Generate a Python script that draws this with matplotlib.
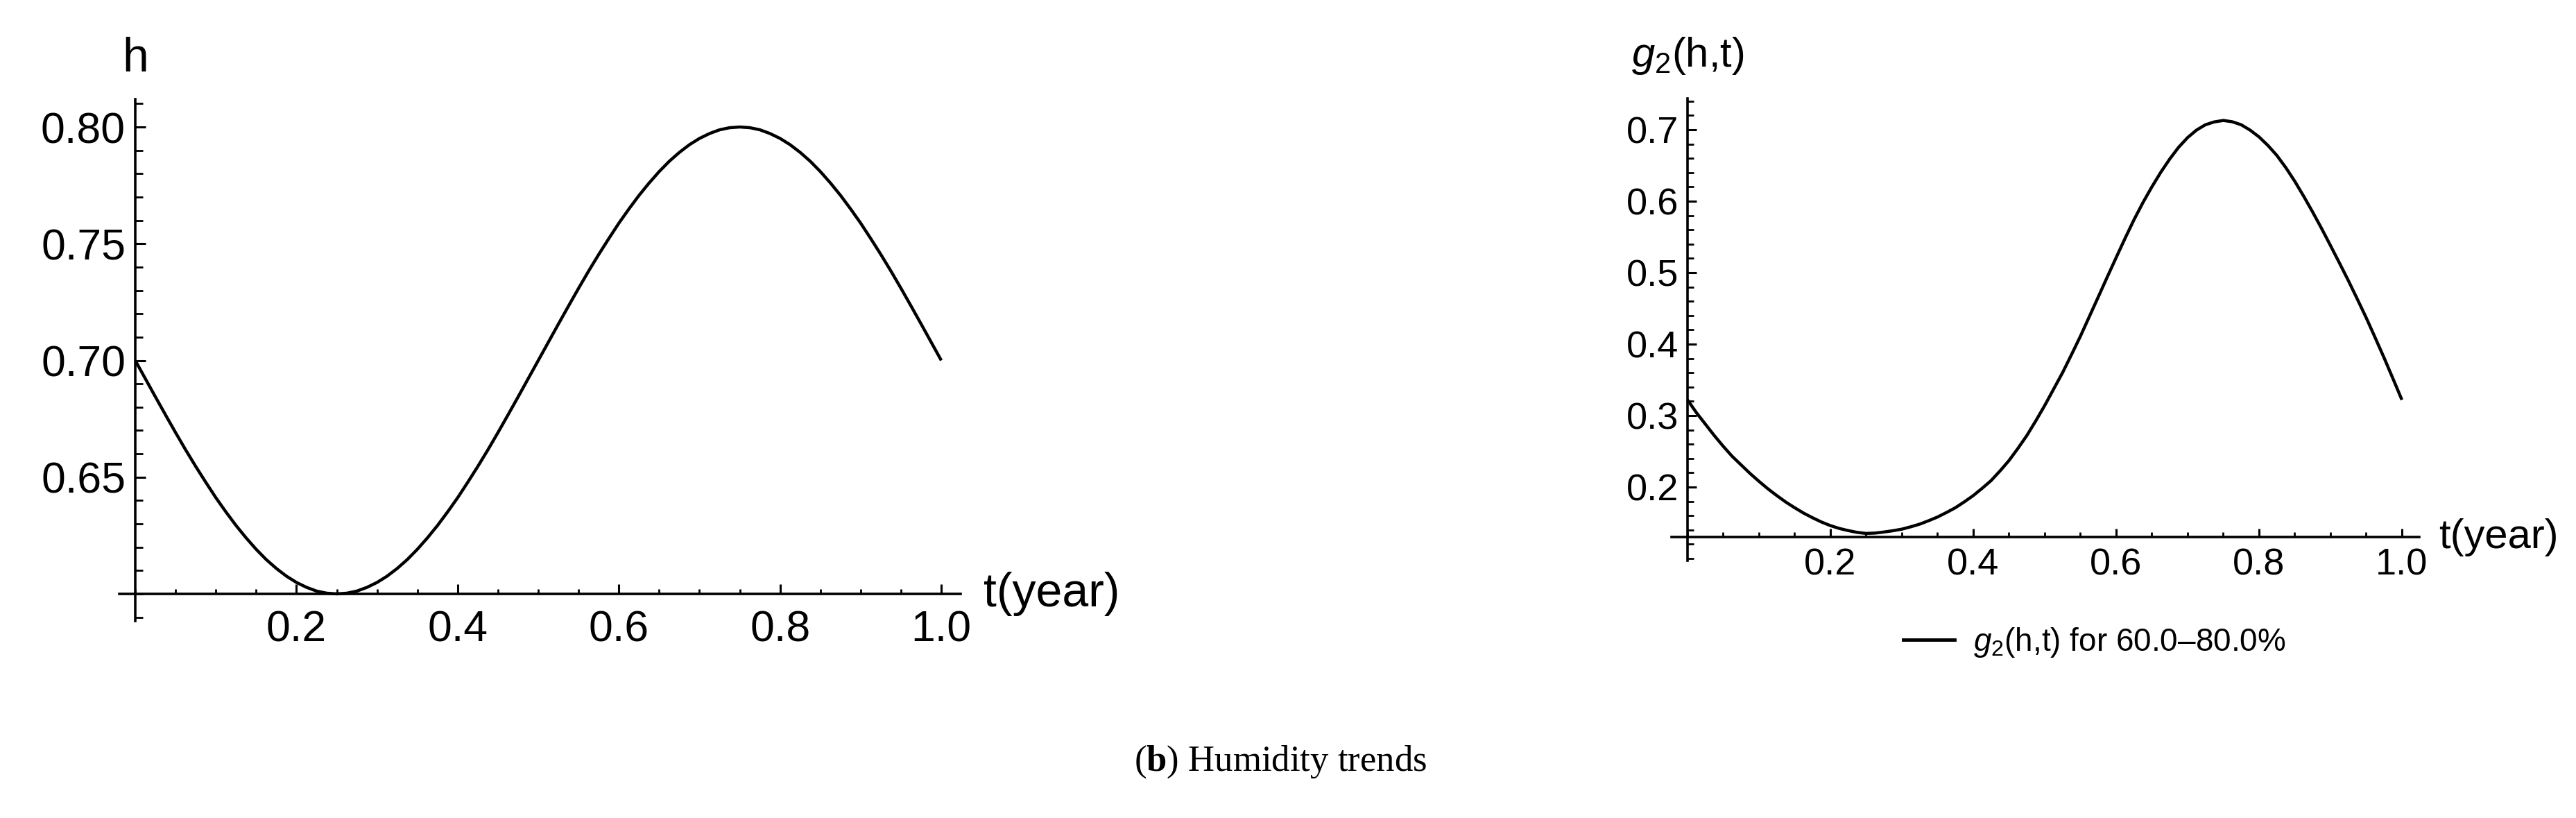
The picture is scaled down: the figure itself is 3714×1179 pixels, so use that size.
import matplotlib
matplotlib.use("Agg")
import matplotlib.pyplot as plt
from matplotlib.ticker import FixedLocator, MultipleLocator
from matplotlib.lines import Line2D

# time in years, shared by both panels
t_year = [0.0000, 0.0125, 0.0250, 0.0375, 0.0500, 0.0625, 0.0750, 0.0875, 0.1000, 0.1125,
          0.1250, 0.1375, 0.1500, 0.1625, 0.1750, 0.1875, 0.2000, 0.2125, 0.2250, 0.2375,
          0.2500, 0.2625, 0.2750, 0.2875, 0.3000, 0.3125, 0.3250, 0.3375, 0.3500, 0.3625,
          0.3750, 0.3875, 0.4000, 0.4125, 0.4250, 0.4375, 0.4500, 0.4625, 0.4750, 0.4875,
          0.5000, 0.5125, 0.5250, 0.5375, 0.5500, 0.5625, 0.5750, 0.5875, 0.6000, 0.6125,
          0.6250, 0.6375, 0.6500, 0.6625, 0.6750, 0.6875, 0.7000, 0.7125, 0.7250, 0.7375,
          0.7500, 0.7625, 0.7750, 0.7875, 0.8000, 0.8125, 0.8250, 0.8375, 0.8500, 0.8625,
          0.8750, 0.8875, 0.9000, 0.9125, 0.9250, 0.9375, 0.9500, 0.9625, 0.9750, 0.9875,
          1.0000]

# humidity h (left panel)
h_vals = [0.7000, 0.6922, 0.6844, 0.6767, 0.6691, 0.6617, 0.6546, 0.6478, 0.6412, 0.6351,
          0.6293, 0.6240, 0.6191, 0.6147, 0.6109, 0.6076, 0.6049, 0.6028, 0.6012, 0.6003,
          0.6000, 0.6003, 0.6012, 0.6028, 0.6049, 0.6076, 0.6109, 0.6147, 0.6191, 0.6240,
          0.6293, 0.6351, 0.6412, 0.6478, 0.6546, 0.6617, 0.6691, 0.6767, 0.6844, 0.6922,
          0.7000, 0.7078, 0.7156, 0.7233, 0.7309, 0.7383, 0.7454, 0.7522, 0.7588, 0.7649,
          0.7707, 0.7760, 0.7809, 0.7853, 0.7891, 0.7924, 0.7951, 0.7972, 0.7988, 0.7997,
          0.8000, 0.7997, 0.7988, 0.7972, 0.7951, 0.7924, 0.7891, 0.7853, 0.7809, 0.7760,
          0.7707, 0.7649, 0.7588, 0.7522, 0.7454, 0.7383, 0.7309, 0.7233, 0.7156, 0.7078,
          0.7000]

# g2(h,t) (right panel)
g2_vals = [0.3220, 0.3040, 0.2880, 0.2720, 0.2570, 0.2430, 0.2310, 0.2190, 0.2080, 0.1975,
           0.1880, 0.1790, 0.1710, 0.1635, 0.1570, 0.1510, 0.1460, 0.1420, 0.1390, 0.1365,
           0.1350, 0.1355, 0.1370, 0.1388, 0.1410, 0.1443, 0.1480, 0.1528, 0.1580, 0.1643,
           0.1710, 0.1792, 0.1880, 0.1982, 0.2090, 0.2225, 0.2370, 0.2540, 0.2720, 0.2925,
           0.3140, 0.3370, 0.3600, 0.3852, 0.4110, 0.4385, 0.4660, 0.4937, 0.5210, 0.5480,
           0.5740, 0.5980, 0.6200, 0.6405, 0.6590, 0.6755, 0.6890, 0.6995, 0.7070, 0.7110,
           0.7130, 0.7112, 0.7070, 0.6995, 0.6900, 0.6780, 0.6640, 0.6470, 0.6280, 0.6070,
           0.5850, 0.5620, 0.5380, 0.5137, 0.4890, 0.4632, 0.4370, 0.4092, 0.3810, 0.3517,
           0.3220]

x_ticks = [0.2, 0.4, 0.6, 0.8, 1.0]
x_ticklabels = ["0.2", "0.4", "0.6", "0.8", "1.0"]
h_ticks = [0.65, 0.70, 0.75, 0.80]
h_ticklabels = ["0.65", "0.70", "0.75", "0.80"]
g_ticks = [0.2, 0.3, 0.4, 0.5, 0.6, 0.7]
g_ticklabels = ["0.2", "0.3", "0.4", "0.5", "0.6", "0.7"]
legend_label = "$g_2$(h,t) for 60.0\u201380.0%"
caption = "($\\mathbf{b}$) Humidity trends"

plt.rcParams['font.family'] = ['Liberation Sans', 'DejaVu Sans']
plt.rcParams['mathtext.fontset'] = 'custom'
plt.rcParams['mathtext.rm'] = 'Liberation Sans'
plt.rcParams['mathtext.it'] = 'Liberation Sans:italic'
plt.rcParams['mathtext.bf'] = 'Liberation Serif:bold'

W, H = 3714, 1179
fig = plt.figure(figsize=(W / 100, H / 100), dpi=100)


def style_axes(ax, x0, y0, xlim, ylim, lab_size, xpad, ypad,
               xmaj, xmin, ymaj, ymin):
    ax.set_xlim(*xlim)
    ax.set_ylim(*ylim)
    for s in ['top', 'right']:
        ax.spines[s].set_visible(False)
    ax.spines['left'].set_position(('data', x0))
    ax.spines['bottom'].set_position(('data', y0))
    for s in ['left', 'bottom']:
        ax.spines[s].set_linewidth(2.6)
    ax.tick_params(axis='x', which='major', direction='in', length=xmaj,
                   width=2.2, pad=xpad, labelsize=lab_size)
    ax.tick_params(axis='x', which='minor', direction='in', length=xmin, width=2.0)
    ax.tick_params(axis='y', which='major', direction='in', length=ymaj,
                   width=2.2, pad=ypad, labelsize=lab_size)
    ax.tick_params(axis='y', which='minor', direction='in', length=ymin, width=2.0)


# ---- left panel: h ----
ax1 = fig.add_axes([172 / W, (H - 895) / H, 1213 / W, 752 / H])
ax1.plot(t_year, h_vals, color='black', lw=3.2, solid_capstyle='butt')
style_axes(ax1, 0, 0.6, (-0.0198, 1.024), (0.5884, 0.8119), 45, 16, 10,
           10, 5, 11, 8)
ax1.xaxis.set_major_locator(FixedLocator(x_ticks))
ax1.set_xticklabels(x_ticklabels)
ax1.xaxis.set_minor_locator(MultipleLocator(0.05))
ax1.yaxis.set_major_locator(FixedLocator(h_ticks))
ax1.set_yticklabels(h_ticklabels)
ax1.yaxis.set_minor_locator(MultipleLocator(0.01))
ax1.text(0, 0.8119 + 0.012, "h", fontsize=49, ha='center', va='baseline')
ax1.text(1.052, 0.6, "t(year)", fontsize=49, ha='left', va='center')

# ---- right panel: g2 ----
ax2 = fig.add_axes([2410 / W, (H - 808) / H, 1078 / W, 666 / H])
ax2.plot(t_year, g2_vals, color='black', lw=3.2, solid_capstyle='butt')
style_axes(ax2, 0, 0.13, (-0.0223, 1.0243), (0.097, 0.7437), 39, 11, 9,
           8.6, 5, 9.5, 6.7)
ax2.xaxis.set_major_locator(FixedLocator(x_ticks))
ax2.set_xticklabels(x_ticklabels)
ax2.xaxis.set_minor_locator(MultipleLocator(0.05))
ax2.yaxis.set_major_locator(FixedLocator(g_ticks))
ax2.set_yticklabels(g_ticklabels)
ax2.yaxis.set_minor_locator(MultipleLocator(0.02))
ax2.text(0, 0.7437 + 0.06, "$g_2$(h,t)", fontsize=43, ha='center', va='center')
ax2.text(1.052, 0.13, "t(year)", fontsize=43, ha='left', va='center')

handle = Line2D([], [], color='black', lw=3.5)
fig.legend([handle], [legend_label], loc='center',
           bbox_to_anchor=(3020 / W, 1 - 926 / H), frameon=False,
           fontsize=33, handlelength=1.6, handletextpad=0.6)

fig.text(0.497, 1 - 1098 / H, caption, fontsize=38, ha='center', va='center',
         family=['Liberation Serif', 'DejaVu Serif'])

fig.savefig("out.png", dpi=100)
